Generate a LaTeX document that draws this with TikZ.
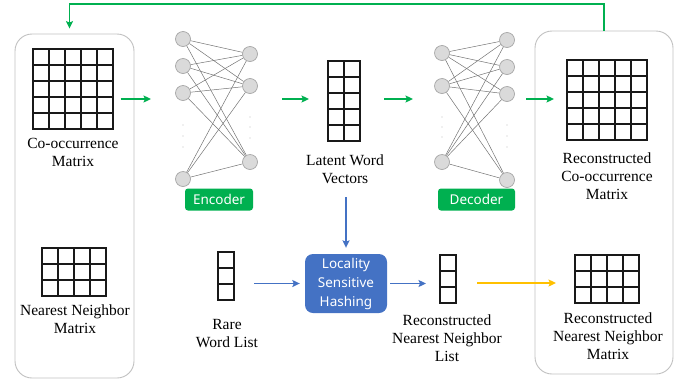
\documentclass[tikz,border=0pt]{standalone}
\usepackage{fontspec}
\setmainfont{Liberation Serif}
\newfontfamily\tagfont{Noto Sans}
\usepackage{tikz}
\usetikzlibrary{arrows.meta}
\definecolor{ggreen}{HTML}{00B050}
\definecolor{lshblue}{HTML}{4472C4}
\definecolor{gold}{HTML}{FFC000}
\definecolor{panelgray}{HTML}{C0C0C0}
\definecolor{neurongray}{HTML}{DADADA}
\def\cs{16}
% a block of #4 x #5 cells with its top left corner at (#2,#3), named #1
\newcommand{\cells}[5]{%
  \node[inner sep=0, outer sep=0, minimum width=#4*\cs*1pt, minimum height=#5*\cs*1pt, anchor=north west] (#1) at (#2,#3) {};
  \foreach \i in {0,...,#4}
    \draw[cell] (#2+\i*\cs, #3) -- ++(0,#5*\cs);
  \foreach \j in {0,...,#5}
    \draw[cell] (#2, #3+\j*\cs) -- ++(#4*\cs,0);
}
\tikzset{
  cell/.style={line width=1.3pt, black!90, line cap=rect},
  lbl/.style={font=\fontsize{15.5pt}{17.7pt}\selectfont, align=center, inner sep=0, anchor=north},
  panel/.style={draw=panelgray, line width=0.9pt, rounded corners=17pt},
  neuron/.style={circle, draw=gray!70, fill=neurongray, line width=0.7pt, minimum size=15pt, inner sep=0},
  wire/.style={gray!90!black, line width=0.5pt},
  tag/.style={fill=ggreen, text=white, rounded corners=3pt, inner sep=0, minimum height=22pt, font=\tagfont\fontsize{13.5pt}{15pt}\selectfont},
  garrow/.style={ggreen, line width=1.7pt, -{Stealth[length=7.5pt,width=7pt,inset=1.5pt]}},
  barrow/.style={lshblue, line width=1.7pt, -{Stealth[length=7.5pt,width=7pt,inset=1.5pt]}},
  yarrow/.style={gold, line width=1.8pt, -{Stealth[length=7.5pt,width=7pt,inset=1.5pt]}},
}

\begin{document}
\begin{tikzpicture}[x=1pt, y=-1pt]
  \useasboundingbox (0,0) rectangle (684,381);

  % input and output panels
  \node[panel, minimum width=119pt, minimum height=344pt] (lbox) at (74.5,206) {};
  \node[panel, minimum width=138pt, minimum height=343pt] (rbox) at (604,202.5) {};

  % matrices and lists
  \cells{com}{33}{49}{5}{5}
  \cells{nnm}{42}{248}{4}{3}
  \cells{lwv}{328}{61}{2}{5}
  \cells{rare}{218}{252}{1}{3}
  \cells{rnl}{440}{255}{1}{3}
  \cells{rcm}{567}{60}{5}{5}
  \cells{rnm}{575}{255}{4}{3}

  \node[lbl] (comlbl) at (73,138) {Co-occurrence\\Matrix};
  \node[lbl] (nnmlbl) at (75,305) {Nearest Neighbor\\Matrix};
  \node[lbl] (lwvlbl) at (345,155) {Latent Word\\Vectors};
  \node[lbl] (rarelbl) at (227,319) {Rare\\Word List};
  \node[lbl] (rnllbl) at (447,315) {Reconstructed\\Nearest Neighbor\\List};
  \node[lbl] (rcmlbl) at (607,153) {Reconstructed\\Co-occurrence\\Matrix};
  \node[lbl] (rnmlbl) at (608,313) {Reconstructed\\Nearest Neighbor\\Matrix};

  % encoder
  \foreach \n/\y in {1/39, 2/66, 3/93, 4/179}
    \node[neuron] (ei\n) at (183,\y) {};
  \foreach \n/\y in {1/54, 2/86, 3/162}
    \node[neuron] (eo\n) at (250,\y) {};
  \foreach \i in {1,...,4}
    \foreach \j in {1,2,3}
      \draw[wire] (ei\i) -- (eo\j);
  \foreach \y in {125,136,147} \fill[gray!50] (183,\y) circle (0.6);
  \foreach \y in {117,127,138} \fill[gray!50] (250,\y) circle (0.6);
  \node[tag, minimum width=68pt] (enc) at (219,199.5) {Encoder};

  % decoder
  \foreach \n/\y in {1/53, 2/86, 3/162}
    \node[neuron] (di\n) at (442,\y) {};
  \foreach \n/\y in {1/40, 2/67, 3/94, 4/180}
    \node[neuron] (do\n) at (507,\y) {};
  \foreach \i in {1,2,3}
    \foreach \j in {1,...,4}
      \draw[wire] (di\i) -- (do\j);
  \foreach \y in {117,127,137} \fill[gray!50] (442,\y) circle (0.6);
  \foreach \y in {125,136,147} \fill[gray!50] (507,\y) circle (0.6);
  \node[tag, minimum width=77pt] (dec) at (476.5,199.5) {Decoder};

  % hashing
  \node[fill=lshblue, text=white, rounded corners=8pt, inner sep=0, minimum width=82pt, minimum height=59pt,
        align=center, font=\tagfont\fontsize{13.5pt}{19pt}\selectfont] (lsh) at (346,283.5) {Locality\\Sensitive\\Hashing};

  % green flow
  \coordinate (encL) at (151,99);
  \coordinate (encR) at (282,99);
  \coordinate (decL) at (413,99);
  \coordinate (decR) at (526,99);
  \coordinate (top) at (0,4);
  \draw[garrow, shorten <=7.5pt] (com.east |- encL) -- (encL);
  \draw[garrow, shorten >=19pt] (encR) -- (encR -| lwv.west);
  \draw[garrow, shorten <=24pt] (encR -| lwv.east) -- (decL);
  \draw[garrow, shorten >=13pt] (decR) -- (decR -| rcm.west);
  \draw[garrow, shorten >=5pt] (rbox.north) -- (rbox.north |- top) -| ([xshift=-5pt]lbox.north);

  % lookup of neighbours
  \draw[barrow, shorten <=13pt, shorten >=6pt] (lwvlbl.south -| lsh.north) -- (lsh.north);
  \draw[barrow, shorten <=20pt, shorten >=5pt] (rare.east |- lsh.west) -- (lsh.west);
  \draw[barrow, shorten <=3pt, shorten >=14pt] (lsh.east) -- (lsh.east -| rnl.west);
  \draw[yarrow, shorten <=21pt, shorten >=19pt] ([yshift=-4pt]rnl.east) -- ([yshift=-4pt]rnm.west);
\end{tikzpicture}
\end{document}
